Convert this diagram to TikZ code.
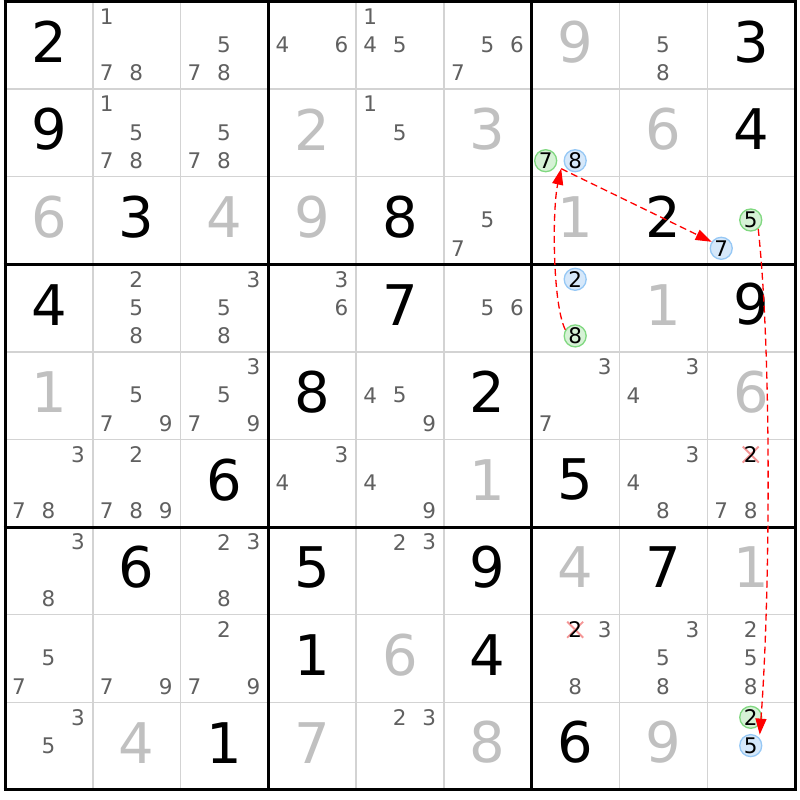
\documentclass[tikz,border=0pt]{standalone}
\usepackage{fontspec}
\setmainfont{DejaVu Sans}
\usetikzlibrary{arrows.meta,calc}
\definecolor{thingrid}{RGB}{211,211,211}
\definecolor{cand}{RGB}{96,96,96}
\definecolor{placed}{RGB}{192,192,192}
\definecolor{gfill}{RGB}{214,242,214}
\definecolor{gline}{RGB}{128,216,128}
\definecolor{bfill}{RGB}{214,232,250}
\definecolor{bline}{RGB}{150,200,245}
\definecolor{xmark}{RGB}{245,150,150}
\definecolor{chain}{RGB}{255,0,0}
\def\cw{87.78}\def\ch{87.6}\def\ox{5}\def\oy{1.5}
\begin{document}
\begin{tikzpicture}[x=1pt,y=-1pt,
  given/.style={inner sep=0pt, font=\fontsize{56}{56}\selectfont, text=black},
  placedd/.style={given, text=placed},
  cnd/.style={inner sep=0pt, font=\fontsize{21.5}{21.5}\selectfont, text=cand},
  gcirc/.style={circle, draw=gline, fill=gfill, line width=1.3pt, minimum size=22pt, inner sep=0pt, font=\fontsize{21.5}{21.5}\selectfont, text=black},
  bcirc/.style={gcirc, draw=bline, fill=bfill},
  xline/.style={draw=xmark, line width=1.8pt},
  thinline/.style={draw=thingrid, line width=1.5pt},
  thickline/.style={draw=black, line width=3pt},
  chainarrow/.style={draw=chain, line width=1.3pt, dash pattern=on 7pt off 4pt, -{Triangle[length=16pt,width=11pt]}}
]
\useasboundingbox (0,0) rectangle (800,800);
\fill[white] (0,0) rectangle (800,800);
% grid
\foreach \i in {1,2,4,5,7,8} {
  \draw[thinline] ({\ox+\i*\cw},\oy) -- ({\ox+\i*\cw},{\oy+9*\ch});
  \draw[thinline] (\ox,{\oy+\i*\ch}) -- ({\ox+9*\cw},{\oy+\i*\ch});
}
\foreach \i in {0,3,6,9} {
  \draw[thickline] ({\ox+\i*\cw},{\oy-1.5}) -- ({\ox+\i*\cw},{\oy+9*\ch+1.5});
  \draw[thickline] ({\ox-1.5},{\oy+\i*\ch}) -- ({\ox+9*\cw+1.5},{\oy+\i*\ch});
}
% given digits
\foreach \r/\c/\d in {0/0/2,0/8/3,1/0/9,1/8/4,2/1/3,2/4/8,2/7/2,3/0/4,3/4/7,3/8/9,4/3/8,4/5/2,5/2/6,5/6/5,6/1/6,6/3/5,6/5/9,6/7/7,7/3/1,7/5/4,8/2/1,8/6/6} {
  \node[given] (v\r\c) at ({\ox+(\c+0.5)*\cw},{\oy+(\r+0.5)*\ch-3.5}) {\d};
}
% placed digits
\foreach \r/\c/\d in {0/6/9,1/3/2,1/5/3,1/7/6,2/0/6,2/2/4,2/3/9,2/6/1,3/7/1,4/0/1,4/8/6,5/5/1,6/6/4,6/8/1,7/4/6,8/1/4,8/3/7,8/5/8,8/7/9} {
  \node[placedd] (v\r\c) at ({\ox+(\c+0.5)*\cw},{\oy+(\r+0.5)*\ch-3.5}) {\d};
}
% candidates
\foreach \r/\c/\d in {0/1/1,0/1/7,0/1/8,0/2/5,0/2/7,0/2/8,0/3/4,0/3/6,0/4/1,0/4/4,0/4/5,0/5/5,0/5/6,0/5/7,0/7/5,0/7/8,
  1/1/1,1/1/5,1/1/7,1/1/8,1/2/5,1/2/7,1/2/8,1/4/1,1/4/5,
  2/5/5,2/5/7,
  3/1/2,3/1/5,3/1/8,3/2/3,3/2/5,3/2/8,3/3/3,3/3/6,3/5/5,3/5/6,
  4/1/5,4/1/7,4/1/9,4/2/3,4/2/5,4/2/7,4/2/9,4/4/4,4/4/5,4/4/9,4/6/3,4/6/7,4/7/3,4/7/4,
  5/0/3,5/0/7,5/0/8,5/1/2,5/1/7,5/1/8,5/1/9,5/3/3,5/3/4,5/4/4,5/4/9,5/7/3,5/7/4,5/7/8,5/8/7,5/8/8,
  6/0/3,6/0/8,6/2/2,6/2/3,6/2/8,6/4/2,6/4/3,
  7/0/5,7/0/7,7/1/7,7/1/9,7/2/2,7/2/7,7/2/9,7/6/3,7/6/8,7/7/3,7/7/5,7/7/8,7/8/2,7/8/5,7/8/8,
  8/0/3,8/0/5,8/4/2,8/4/3} {
  \pgfmathtruncatemacro{\sc}{mod(\d-1,3)}
  \pgfmathtruncatemacro{\sr}{div(\d-1,3)}
  \node[cnd] (k\r\c\d) at ({\ox+\c*\cw+14+\sc*29.5},{\oy+\r*\ch+15+\sr*28.3}) {\d};
}
% crossed-out candidates (cross under the digit)
\foreach \r/\c/\d in {5/8/2,7/6/2} {
  \pgfmathtruncatemacro{\sc}{mod(\d-1,3)}
  \pgfmathtruncatemacro{\sr}{div(\d-1,3)}
  \coordinate (x\r\c\d) at ({\ox+\c*\cw+14+\sc*29.5},{\oy+\r*\ch+15+\sr*28.3});
  \draw[xline] ($(x\r\c\d)+(-8,-8)$) -- ($(x\r\c\d)+(8,8)$);
  \draw[xline] ($(x\r\c\d)+(-8,8)$) -- ($(x\r\c\d)+(8,-8)$);
  \node[cnd,text=black] (k\r\c\d) at (x\r\c\d) {\d};
}
% highlighted candidates
\foreach \r/\c/\d/\s in {1/6/7/gcirc,1/6/8/bcirc,2/8/5/gcirc,2/8/7/bcirc,3/6/2/bcirc,3/6/8/gcirc,8/8/2/gcirc,8/8/5/bcirc} {
  \pgfmathtruncatemacro{\sc}{mod(\d-1,3)}
  \pgfmathtruncatemacro{\sr}{div(\d-1,3)}
  \node[\s] (k\r\c\d) at ({\ox+\c*\cw+14+\sc*29.5},{\oy+\r*\ch+15+\sr*28.3}) {\d};
}
% chain arrows
\coordinate (hub) at ($(k168)+(-14,8)$);
\coordinate (e3) at ($(k885)+(9,-11)$);
\draw[chainarrow] (k368.148) .. controls ($(k368.148)+(-13,-26)$) and ($(hub)+(-9,40)$) .. (hub);
\draw[chainarrow] (hub) -- (k287.146);
\draw[chainarrow] (k285.-50) .. controls ($(k285.-50)+(14,130)$) and ($(e3)+(10,-130)$) .. (e3);
\end{tikzpicture}
\end{document}
